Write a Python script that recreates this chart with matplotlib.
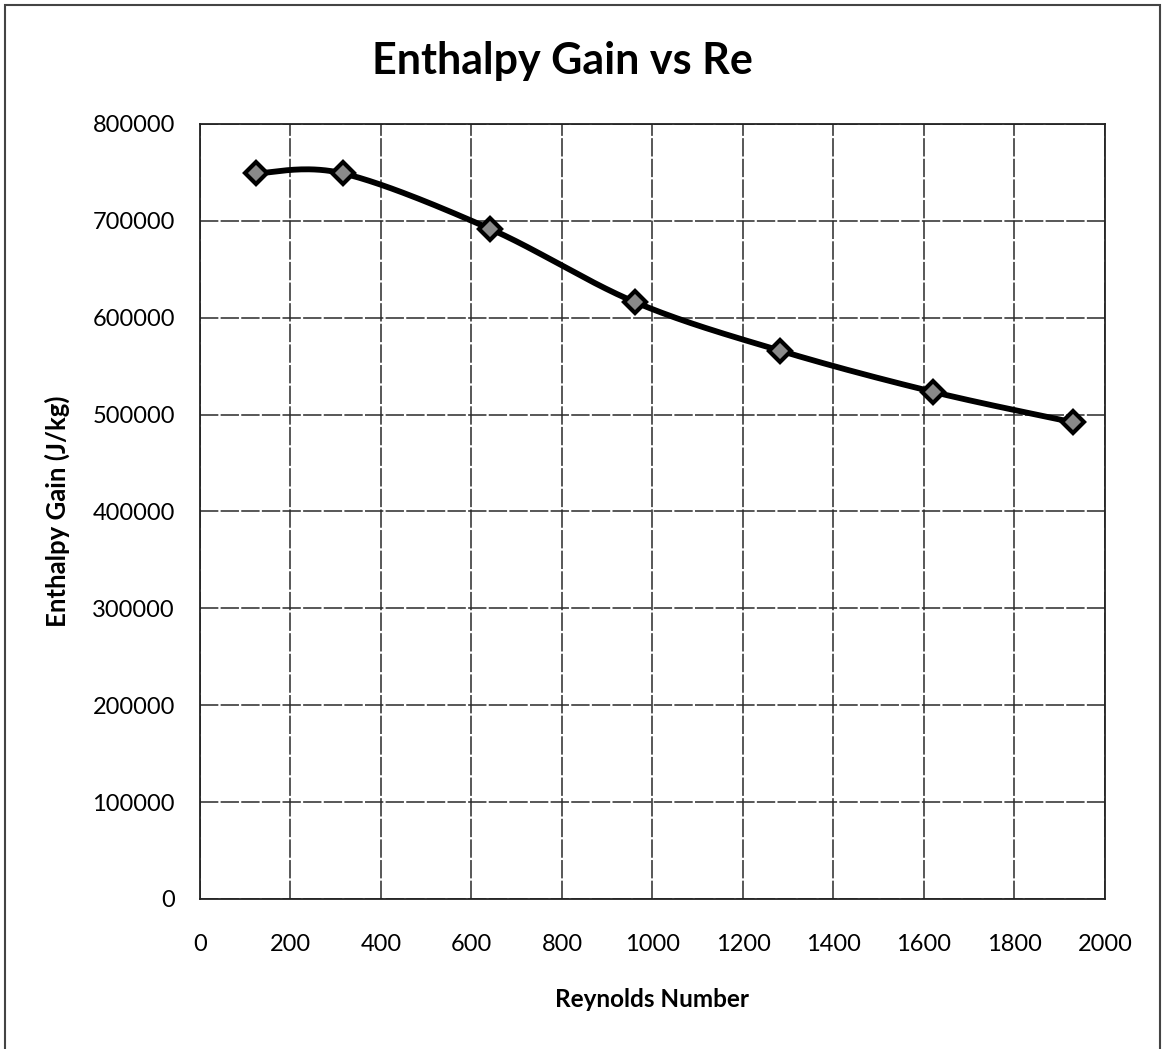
import numpy as np
import matplotlib
matplotlib.use("Agg")
import matplotlib.pyplot as plt
from matplotlib.patches import Rectangle

# Reynolds number vs enthalpy gain (J/kg)
reynolds = [124, 316, 640, 962, 1282, 1620, 1930]
enthalpy = [749000, 749000, 692000, 616000, 566000, 523500, 492000]

x_ticks = [0, 200, 400, 600, 800, 1000, 1200, 1400, 1600, 1800, 2000]
y_ticks = [0, 100000, 200000, 300000, 400000, 500000, 600000, 700000, 800000]


def smooth_curve(xs, ys, n=40):
    # spreadsheet-style smoothed line: cubic Bezier segments with
    # control points taken from neighbouring points
    p = np.column_stack([xs, ys]).astype(float)
    pts = []
    for i in range(len(p) - 1):
        p0 = p[i - 1] if i > 0 else p[i]
        p1, p2 = p[i], p[i + 1]
        p3 = p[i + 2] if i + 2 < len(p) else p[i + 1]
        c1 = p1 + (p2 - p0) / 6.0
        c2 = p2 - (p3 - p1) / 6.0
        t = np.linspace(0, 1, n)[:, None]
        seg = ((1 - t) ** 3) * p1 + 3 * ((1 - t) ** 2) * t * c1 \
            + 3 * (1 - t) * t ** 2 * c2 + t ** 3 * p2
        pts.append(seg if i == 0 else seg[1:])
    pts = np.vstack(pts)
    return pts[:, 0], pts[:, 1]


plt.rcParams['font.family'] = ['Lato', 'DejaVu Sans']

fig = plt.figure(figsize=(11.64, 10.49), dpi=100)
ax = fig.add_axes([0.1718, 0.143, 0.7775, 0.7388])

sx, sy = smooth_curve(reynolds, enthalpy)
ax.plot(sx, sy, color='black', lw=4.2, solid_capstyle='round', zorder=3)
ax.plot(reynolds, enthalpy, linestyle='none', marker='D', markersize=11.5,
        markerfacecolor='#8a8a8a', markeredgecolor='black',
        markeredgewidth=3, zorder=4)

ax.set_xlim(0, 2000)
ax.set_ylim(0, 800000)
ax.set_xticks(x_ticks)
ax.set_yticks(y_ticks)
ax.set_xticklabels([str(v) for v in x_ticks])
ax.set_yticklabels([str(v) for v in y_ticks])
ax.tick_params(axis='both', length=0, labelsize=17, colors='black')
ax.tick_params(axis='x', pad=25)
ax.tick_params(axis='y', pad=18)

ax.grid(True, color='#2a2a2a', lw=1.1, linestyle=(0, (12, 1.5)))
ax.set_axisbelow(True)
for s in ax.spines.values():
    s.set_color('#222222')
    s.set_linewidth(1.3)

ax.set_xlabel('Reynolds Number', fontsize=17.5, fontweight='bold', labelpad=24)
ax.set_ylabel('Enthalpy Gain (J/kg)', fontsize=18.5, fontweight='bold', labelpad=16)
fig.text(0.483, 0.942, 'Enthalpy Gain vs Re', ha='center', va='center',
         fontsize=31, fontweight='bold')

# outer chart frame
fig.patches.append(Rectangle((0.0045, -0.01), 0.992, 1.005, transform=fig.transFigure,
                             fill=False, edgecolor='#444444', lw=1.5))

fig.savefig('out.png', dpi=100, facecolor='white')
